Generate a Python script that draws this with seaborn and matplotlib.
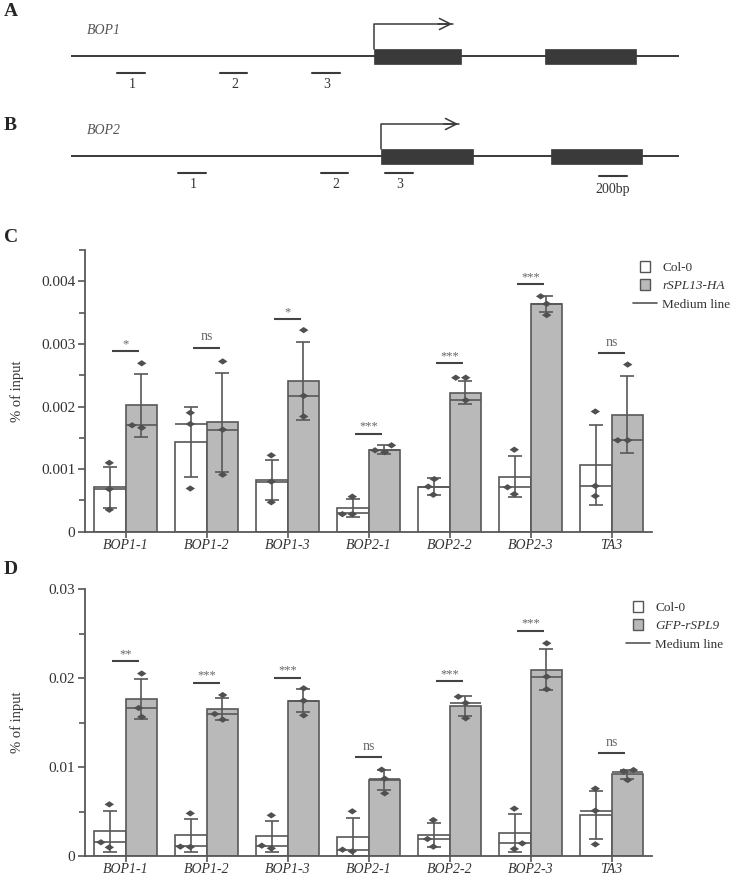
import numpy as np
import pandas as pd
import matplotlib
matplotlib.use("Agg")
import matplotlib.pyplot as plt
import seaborn as sns
from matplotlib.path import Path
from matplotlib.markers import MarkerStyle
from matplotlib.patches import Rectangle, Patch
from matplotlib.lines import Line2D
from matplotlib.legend_handler import HandlerPatch
from matplotlib.container import BarContainer

# ---------------- data ----------------
categories = ["BOP1-1", "BOP1-2", "BOP1-3", "BOP2-1", "BOP2-2", "BOP2-3", "TA3"]

# Panel C
c_groups = ["Col-0", "rSPL13-HA"]
c_col_mean = [0.00071, 0.00144, 0.00083, 0.00038, 0.00072, 0.00088, 0.00107]
c_col_sd = [0.00033, 0.00056, 0.00032, 0.00014, 0.00013, 0.00033, 0.00064]
c_col_median = [0.00068, 0.00172, 0.00080, 0.00030, 0.00072, 0.00071, 0.00073]
c_col_points = [[0.00110, 0.00068, 0.00035], [0.00172, 0.00190, 0.00069],
                [0.00122, 0.00080, 0.00047], [0.00056, 0.00028, 0.00028],
                [0.00084, 0.00072, 0.00059], [0.00131, 0.00071, 0.00060],
                [0.00192, 0.00073, 0.00057]]
c_spl_mean = [0.00202, 0.00175, 0.00241, 0.00131, 0.00222, 0.00364, 0.00187]
c_spl_sd = [0.00050, 0.00079, 0.00062, 0.00007, 0.00018, 0.00013, 0.00061]
c_spl_median = [0.00170, 0.00163, 0.00217, 0.00130, 0.00210, 0.00364, 0.00146]
c_spl_points = [[0.00269, 0.00166, 0.00170], [0.00272, 0.00163, 0.00091],
                [0.00322, 0.00217, 0.00184], [0.00138, 0.00130, 0.00127],
                [0.00246, 0.00246, 0.00210], [0.00376, 0.00364, 0.00346],
                [0.00267, 0.00146, 0.00146]]
c_sig_labels = ["*", "ns", "*", "***", "***", "***", "ns"]
c_sig_heights = [0.00288, 0.00294, 0.00339, 0.00156, 0.00269, 0.00395, 0.00285]
c_yticks = [0, 0.001, 0.002, 0.003, 0.004]
c_yticklabels = ["0", "0.001", "0.002", "0.003", "0.004"]

# Panel D
d_groups = ["Col-0", "GFP-rSPL9"]
d_col_mean = [0.00277, 0.00232, 0.00221, 0.00210, 0.00232, 0.00255, 0.00464]
d_col_sd = [0.00229, 0.00186, 0.00174, 0.00217, 0.00135, 0.00213, 0.00270]
d_col_median = [0.00154, 0.00109, 0.00116, 0.00071, 0.00191, 0.00142, 0.00509]
d_col_points = [[0.00580, 0.00154, 0.00097], [0.00479, 0.00105, 0.00101],
                [0.00457, 0.00116, 0.00086], [0.00502, 0.00071, 0.00052],
                [0.00404, 0.00191, 0.00105], [0.00532, 0.00142, 0.00079],
                [0.00757, 0.00509, 0.00131]]
d_gfp_mean = [0.01760, 0.01648, 0.01742, 0.00854, 0.01685, 0.02094, 0.00918]
d_gfp_sd = [0.00225, 0.00124, 0.00129, 0.00116, 0.00109, 0.00227, 0.00049]
d_gfp_median = [0.01663, 0.01600, 0.01745, 0.00869, 0.01720, 0.02015, 0.00944]
d_gfp_points = [[0.02050, 0.01663, 0.01562], [0.01809, 0.01596, 0.01532],
                [0.01884, 0.01745, 0.01580], [0.00970, 0.00869, 0.00704],
                [0.01790, 0.01719, 0.01547], [0.02390, 0.02015, 0.01873],
                [0.00966, 0.00951, 0.00854]]
d_sig_labels = ["**", "***", "***", "ns", "***", "***", "ns"]
d_sig_heights = [0.02187, 0.01948, 0.02004, 0.01116, 0.01963, 0.02532, 0.01161]
d_yticks = [0, 0.01, 0.02, 0.03]
d_yticklabels = ["0", "0.01", "0.02", "0.03"]

# Gene diagrams (panel A / B), in figure pixel units
bop1_span = (71, 679)
bop1_exons = [(374, 461), (545, 636)]
bop1_primers = [(117, 145), (220, 247), (312, 340)]
bop1_primer_labels = ["1", "2", "3"]
bop2_span = (71, 679)
bop2_exons = [(381, 473), (551, 642)]
bop2_primers = [(178, 206), (321, 348), (385, 413)]
bop2_primer_labels = ["1", "2", "3"]
scale_bar = (599, 627)

# ---------------- style ----------------
sns.set_style("ticks")
plt.rcParams["font.family"] = ["Liberation Serif", "DejaVu Serif"]

W, H = 730, 875
fig = plt.figure(figsize=(W / 100, H / 100), dpi=100)

DARK = "#3a3a3a"
EDGE = "#585858"
GREY = "#b9b9b9"
TXT = "#333333"

# ---------------- gene diagrams ----------------
axg = fig.add_axes([0, 1 - 200 / H, 1, 200 / H])
axg.set_xlim(0, W)
axg.set_ylim(200, 0)
axg.axis("off")


def gene(ax, y, span, exons, primers, labels, name, name_y, arrow_top, arrow_end):
    ax.plot(span, [y, y], color=DARK, lw=1.4, solid_capstyle="butt")
    for (a, b) in exons:
        ax.add_patch(Rectangle((a, y - 7.5), b - a, 15, facecolor=DARK, edgecolor=DARK, lw=0.5))
    x0 = exons[0][0]
    ax.plot([x0, x0, arrow_end - 2], [y - 7.5, arrow_top, arrow_top], color=DARK, lw=1.1)
    ax.annotate("", xy=(arrow_end, arrow_top), xytext=(arrow_end - 20, arrow_top),
                arrowprops=dict(arrowstyle="->", color=DARK, lw=1.1, mutation_scale=20))
    for (a, b), lab in zip(primers, labels):
        ax.plot([a, b], [y + 16.5, y + 16.5], color=DARK, lw=1.5)
        ax.text((a + b) / 2 + 1, y + 29, lab, ha="center", va="center", fontsize=10, color=TXT)
    ax.text(87, name_y, name, fontsize=10, style="italic", color="#555555", va="center")


gene(axg, 56, bop1_span, bop1_exons, bop1_primers, bop1_primer_labels, "BOP1", 31, 24, 455)
gene(axg, 156, bop2_span, bop2_exons, bop2_primers, bop2_primer_labels, "BOP2", 131, 124, 461)
axg.plot(scale_bar, [176, 176], color=DARK, lw=1.5)
axg.text(sum(scale_bar) / 2, 190, "200bp", ha="center", va="center", fontsize=10, color=TXT)

for lab, (x, y) in {"A": (4, 12), "B": (4, 125), "C": (4, 237), "D": (4, 570)}.items():
    fig.text(x / W, 1 - y / H, lab, fontsize=14, fontweight="bold", va="center", ha="left")


# ---------------- bar panels ----------------
class SquareHandler(HandlerPatch):
    def create_artists(self, legend, orig_handle, xdescent, ydescent, width, height, fontsize, trans):
        s = height * 1.15
        r = Rectangle((width / 2 - s / 2 - xdescent, height / 2 - s / 2 - ydescent), s, s,
                      facecolor=orig_handle.get_facecolor(), edgecolor=orig_handle.get_edgecolor(),
                      lw=1.0, transform=trans)
        return [r]


verts = [(0, 1), (1.5, 0), (0, -1), (-1.5, 0), (0, 1)]
codes = [Path.MOVETO, Path.LINETO, Path.LINETO, Path.LINETO, Path.CLOSEPOLY]
diamond = MarkerStyle(Path(verts, codes))


def panel(rect, groups, means_a, sd_a, med_a, pts_a, means_b, sd_b, med_b, pts_b,
          sig_labels, sig_heights, yticks, yticklabels, ymax, legend_pos):
    ax = fig.add_axes(rect)
    bars = pd.DataFrame({
        "target": categories * 2,
        "group": [groups[0]] * len(categories) + [groups[1]] * len(categories),
        "value": list(means_a) + list(means_b),
    })
    sns.barplot(data=bars, x="target", y="value", hue="group", order=categories,
                hue_order=groups, palette={groups[0]: "white", groups[1]: GREY},
                width=0.78, errorbar=None, edgecolor=EDGE, linewidth=1.2,
                legend=False, ax=ax, zorder=2)
    bar_conts = [c for c in ax.containers if isinstance(c, BarContainer)]
    sds = [sd_a, sd_b]
    meds = [med_a, med_b]
    means = [means_a, means_b]
    for k, cont in enumerate(bar_conts):
        xs = [p.get_x() + p.get_width() / 2 for p in cont.patches]
        ws = [p.get_width() for p in cont.patches]
        ax.errorbar(xs, means[k], yerr=sds[k], fmt="none", ecolor=EDGE, elinewidth=1.2,
                    capsize=5, capthick=1.2, zorder=3)
        ax.hlines(meds[k], [x - w / 2 for x, w in zip(xs, ws)], [x + w / 2 for x, w in zip(xs, ws)],
                  color=EDGE, lw=1.2, zorder=3)
    rows = []
    for g, pts in zip(groups, [pts_a, pts_b]):
        for cat, vals in zip(categories, pts):
            for v in vals:
                rows.append((cat, g, v))
    pdf = pd.DataFrame(rows, columns=["target", "group", "value"])
    sns.swarmplot(data=pdf, x="target", y="value", hue="group", order=categories,
                  hue_order=groups, dodge=True, palette={groups[0]: "#505050", groups[1]: "#505050"},
                  marker=diamond, size=6.8, linewidth=0, legend=False, ax=ax, zorder=4,
                  warn_thresh=1)
    for i, (lab, h) in enumerate(zip(sig_labels, sig_heights)):
        ax.hlines(h, i - 0.17, i + 0.17, color="#444444", lw=1.5)
        ax.annotate(lab, (i, h), xytext=(0, 3 if lab == "ns" else 1), textcoords="offset points",
                    ha="center", va="bottom", fontsize=10 if lab == "ns" else 9, color="#666666")
    ax.set_xlim(-0.5, 6.5)
    ax.set_ylim(0, ymax)
    ax.set_yticks(yticks)
    ax.set_yticklabels(yticklabels)
    step = yticks[1] - yticks[0]
    ax.set_yticks(np.arange(step / 2, ymax + 1e-12, step), minor=True)
    ax.set_xticks(range(len(categories)))
    ax.set_xticklabels(categories, style="italic")
    ax.tick_params(axis="y", colors=EDGE, labelcolor=TXT, labelsize=11, width=1.2, length=5, pad=2)
    ax.tick_params(axis="y", which="minor", colors=EDGE, width=1.2, length=4)
    ax.tick_params(axis="x", colors=EDGE, labelcolor=TXT, labelsize=10, width=1.2, length=4, pad=1)
    for s in ["top", "right"]:
        ax.spines[s].set_visible(False)
    for s in ["left", "bottom"]:
        ax.spines[s].set_color(EDGE)
        ax.spines[s].set_linewidth(1.3)
    ax.set_xlabel("")
    ax.set_ylabel("% of input", fontsize=10.5, color=TXT)
    ax.yaxis.set_label_coords(-0.107, 0.5)
    handles = [Patch(facecolor="white", edgecolor="#555555"),
               Patch(facecolor=GREY, edgecolor="#555555"),
               Line2D([0], [0], color="#555555", lw=1.2)]
    leg = ax.legend(handles, [groups[0], groups[1], "Medium line"], loc="upper left",
                    bbox_to_anchor=legend_pos, bbox_transform=fig.transFigure, frameon=False,
                    fontsize=9.5, handlelength=1.8, handletextpad=0.4, labelspacing=0.45,
                    borderaxespad=0, borderpad=0, handler_map={Patch: SquareHandler()})
    for t in leg.get_texts()[1:2]:
        t.set_style("italic")
    for t in leg.get_texts():
        t.set_color(TXT)
    return ax


def frac(l, r, top, bot):
    return [l / W, 1 - bot / H, (r - l) / W, (bot - top) / H]


panel(frac(85, 652, 250, 531.7), c_groups, c_col_mean, c_col_sd, c_col_median, c_col_points,
      c_spl_mean, c_spl_sd, c_spl_median, c_spl_points, c_sig_labels, c_sig_heights,
      c_yticks, c_yticklabels, 0.0045, (633 / W, 1 - 262 / H))
panel(frac(85, 652, 589, 856), d_groups, d_col_mean, d_col_sd, d_col_median, d_col_points,
      d_gfp_mean, d_gfp_sd, d_gfp_median, d_gfp_points, d_sig_labels, d_sig_heights,
      d_yticks, d_yticklabels, 0.03, (626 / W, 1 - 602 / H))

fig.savefig("out.png", dpi=100)
